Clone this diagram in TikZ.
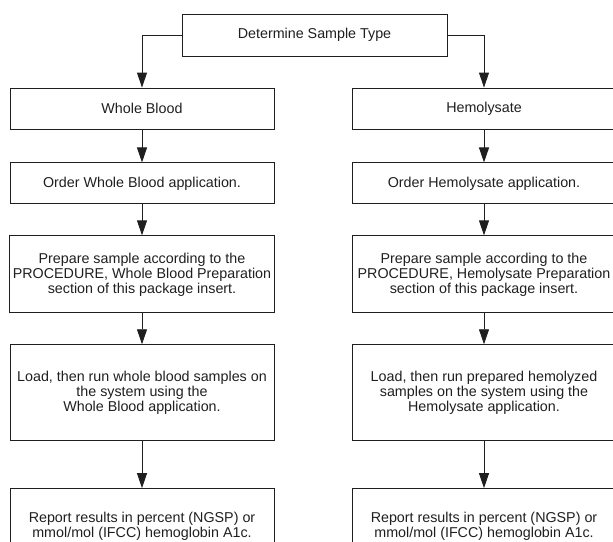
\documentclass[tikz,border=0pt]{standalone}
\usepackage{fontspec}
\setmainfont{Liberation Sans}
\usepackage{tikz}
\usetikzlibrary{arrows.meta,positioning}

\begin{document}
\begin{tikzpicture}[
    x=1pt, y=-1pt,
    box/.style={draw=black!88, rectangle, line width=0.9pt, minimum width=264pt, align=center, inner sep=3pt, text=black!88, font=\fontsize{14.3}{15}\selectfont},
    >={Triangle[length=15pt,width=10pt]},
    flow/.style={->, line width=0.9pt, draw=black!88}
]
    \useasboundingbox (0,0) rectangle (613,541);

    \node[box, minimum width=265pt, minimum height=42pt] (type) at (314.5,35) {Determine Sample Type};

    % whole blood column
    \node[box, minimum height=41pt] (whole) at (142,108.5) {Whole Blood};
    \node[box, minimum height=41pt, below=33pt of whole] (wholeorder) {Order Whole Blood application.};
    \node[box, minimum height=77pt, below=31pt of wholeorder] (wholeprep) {Prepare sample according to the\\PROCEDURE, Whole Blood Preparation\\section of this package insert.};
    \node[box, minimum height=95.5pt, below=31pt of wholeprep] (wholeload) {Load, then run whole blood samples on\\the system using the\\Whole Blood application.};
    \node[box, minimum height=75pt, below=47.5pt of wholeload] (wholereport) {Report results in percent (NGSP) or\\mmol/mol (IFCC) hemoglobin A1c.};

    % hemolysate column
    \node[box, minimum height=41pt] (hemo) at (484,108.5) {Hemolysate};
    \node[box, minimum height=41pt, below=33pt of hemo] (hemoorder) {Order Hemolysate application.};
    \node[box, minimum height=77pt, below=31pt of hemoorder] (hemoprep) {Prepare sample according to the\\PROCEDURE, Hemolysate Preparation\\section of this package insert.};
    \node[box, minimum height=95.5pt, below=31pt of hemoprep] (hemoload) {Load, then run prepared hemolyzed\\samples on the system using the\\Hemolysate application.};
    \node[box, minimum height=75pt, below=47.5pt of hemoload] (hemoreport) {Report results in percent (NGSP) or\\mmol/mol (IFCC) hemoglobin A1c.};

    \draw[flow] (type.west) -| (whole.north);
    \draw[flow] (type.east) -| (hemo.north);

    \draw[flow] (whole) -- (wholeorder);
    \draw[flow] (wholeorder) -- (wholeprep);
    \draw[flow] (wholeprep) -- (wholeload);
    \draw[flow] (wholeload) -- (wholereport);

    \draw[flow] (hemo) -- (hemoorder);
    \draw[flow] (hemoorder) -- (hemoprep);
    \draw[flow] (hemoprep) -- (hemoload);
    \draw[flow] (hemoload) -- (hemoreport);
\end{tikzpicture}
\end{document}
